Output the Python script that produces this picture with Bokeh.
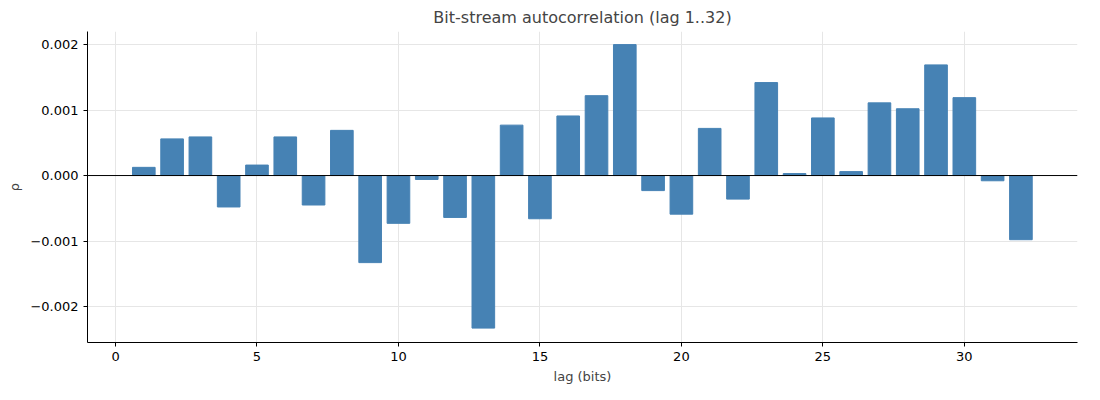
from bokeh.plotting import figure
from bokeh.models import Span, Range1d, FixedTicker
from bokeh.embed import file_html
from bokeh.resources import INLINE

lags = list(range(1, 33))
rho = [0.000125, 0.00056, 0.00059, -0.00048, 0.00016, 0.00059, -0.00045, 0.00069,
       -0.00133, -0.00073, -0.00006, -0.00064, -0.00233, 0.00077, -0.00066, 0.00091,
       0.00122, 0.00200, -0.00023, -0.00059, 0.00072, -0.00036, 0.00142, 0.00003,
       0.00088, 0.00006, 0.00111, 0.00102, 0.00169, 0.00119, -0.00008, -0.00098]
xticks = [0, 5, 10, 15, 20, 25, 30]
yticks = [-0.002, -0.001, 0.0, 0.001, 0.002]

p = figure(width=1092, height=390, output_backend="svg", toolbar_location=None,
           x_range=Range1d(-0.99, 34.0), y_range=Range1d(-0.00255, 0.0022),
           min_border_left=87, min_border_right=15, min_border_top=30, min_border_bottom=48,
           title="Bit-stream autocorrelation (lag 1..32)")
p.title.align = "center"
p.title.text_font = "DejaVu Sans"
p.title.text_font_size = "16px"
p.title.text_font_style = "normal"
p.vbar(x=lags, top=rho, width=0.8, color="#4682b4")
p.add_layout(Span(location=0, dimension="width", line_color="black", line_width=1))
p.xaxis.ticker = FixedTicker(ticks=xticks)
p.yaxis.ticker = FixedTicker(ticks=yticks)
p.yaxis.major_label_overrides = {v: ("\u2212%.3f" % -v if v < 0 else "%.3f" % v) for v in yticks}
p.xaxis.axis_label = "lag (bits)"
p.yaxis.axis_label = "ρ"
for ax in (p.xaxis[0], p.yaxis[0]):
    ax.axis_label_text_font = "DejaVu Sans"
    ax.axis_label_text_font_style = "normal"
    ax.axis_label_text_font_size = "13px"
    ax.major_label_text_font = "DejaVu Sans"
    ax.major_label_text_font_size = "13px"
    ax.major_label_text_color = "black"
    ax.minor_tick_line_color = None
    ax.major_tick_in = 0
    ax.major_tick_out = 4
    ax.axis_line_color = "black"
p.outline_line_color = None
p.grid.grid_line_color = "#e6e6e6"
out = file_html(p, INLINE)
open("out.html", "w").write(out)
